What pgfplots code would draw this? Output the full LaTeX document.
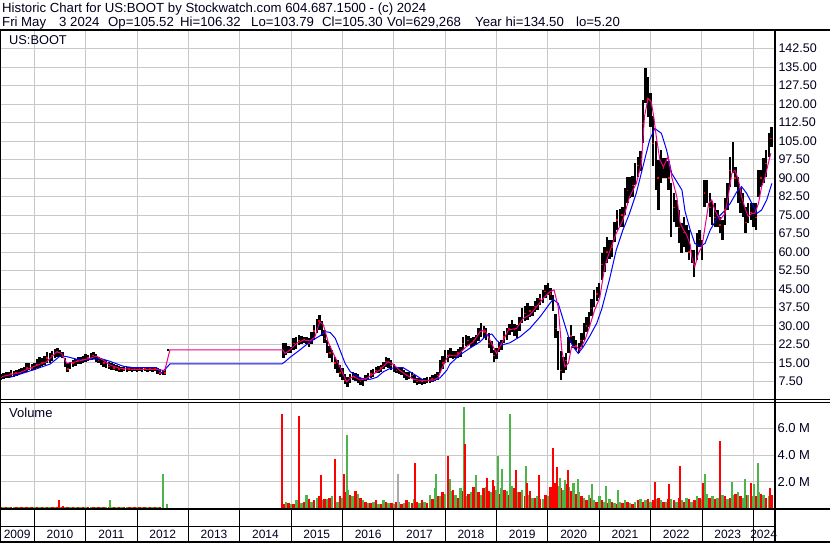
\documentclass[border=0pt]{standalone}
\usepackage{pgfplots}
\pgfplotsset{compat=1.18}
\usepackage{pgfplotstable}
\usepackage{fontspec}
\setmainfont{Liberation Sans}
\definecolor{gridgray}{RGB}{200,200,200}
\definecolor{volgreen}{RGB}{76,180,72}
\definecolor{volred}{RGB}{255,0,0}
\definecolor{volgray}{RGB}{170,170,170}
\definecolor{txt}{RGB}{0,0,30}

\pgfplotstableread{
x lo hi c
2009.35 8.0 10.5 9
2009.40 8.5 11.0 9.5
2009.45 8.8 11.5 10
2009.50 9.0 11.2 10
2009.55 9.5 12.0 10.5
2009.60 9.3 11.8 10.5
2009.65 9.8 12.2 11
2009.70 10.2 12.5 11.5
2009.75 10.5 12.8 11.5
2009.80 11.0 13.5 12
2009.85 11.5 15.1 13
2009.90 12.0 14.8 13.5
2009.95 12.0 14.5 13
2010.00 12.3 15.0 13.5
2010.05 12.8 16.5 14.5
2010.10 13.0 17.6 15
2010.15 13.8 17.0 15
2010.20 14.2 18.0 16
2010.25 14.9 19.6 17
2010.30 15.0 19.0 17
2010.35 16.0 20.0 18
2010.40 17.0 20.5 19
2010.45 17.6 21.0 19.5
2010.50 17.5 20.2 18.5
2010.55 16.9 19.6 18
2010.60 13.5 17.0 14.5
2010.65 11.5 15.0 12.5
2010.70 12.5 15.5 14
2010.75 13.5 16.2 15
2010.80 13.8 16.8 15
2010.85 14.4 17.6 16
2010.90 14.5 17.5 16
2010.95 15.0 18.0 16.5
2011.00 15.5 18.5 17
2011.05 15.8 18.2 17
2011.10 16.2 19.2 18
2011.15 16.5 19.5 18
2011.20 15.5 18.8 17
2011.25 14.9 17.6 16
2011.30 14.0 17.0 15.5
2011.35 13.5 16.5 15
2011.40 12.8 16.2 14
2011.45 12.5 15.5 13.5
2011.50 12.0 14.9 13
2011.55 12.0 14.5 13
2011.60 11.8 14.0 12.5
2011.65 11.5 13.7 12.5
2011.70 11.5 13.5 12.5
2011.75 11.8 13.5 12.5
2011.80 11.5 13.2 12
2011.85 11.8 13.5 12.5
2011.90 11.5 13.0 12
2011.95 11.8 13.5 12.5
2012.00 11.5 13.2 12.5
2012.05 11.8 13.5 12.5
2012.10 11.5 13.2 12
2012.15 11.8 13.0 12.5
2012.20 11.5 13.5 12.5
2012.25 11.8 13.2 12.5
2012.30 11.5 13.0 12
2012.35 11.8 13.5 12.5
2012.40 10.5 13.0 11.5
2012.45 10.0 12.5 11
2012.50 10.0 12.0 10.5
2012.55 10.2 12.5 11
2012.60 20.1 20.5 20.3
2014.85 17.0 23.0 20
2014.90 18.2 23.2 21
2014.95 19.0 22.0 20
2015.00 19.0 21.5 20.5
2015.05 20.3 25.0 23
2015.10 20.8 25.7 24
2015.15 22.3 26.4 24
2015.20 22.5 26.0 24.5
2015.25 23.0 25.7 24.5
2015.30 22.5 25.5 24
2015.35 21.6 25.0 23
2015.40 22.5 27.5 25
2015.45 24.3 30.4 28
2015.50 27.0 33.0 30
2015.55 28.4 34.5 32
2015.60 26.0 32.0 29
2015.65 23.0 28.5 25
2015.70 19.0 24.3 21
2015.75 17.0 22.0 19
2015.80 15.5 20.3 17
2015.85 12.5 17.5 15
2015.90 10.8 16.2 13
2015.95 9.5 14.0 11
2016.00 8.1 13.0 10
2016.05 6.5 10.5 8
2016.10 5.1 9.5 7
2016.15 7.0 10.5 9
2016.20 8.1 11.5 10
2016.25 7.5 11.0 9
2016.30 7.0 10.5 8.5
2016.35 6.0 9.0 7.5
2016.40 5.7 8.9 7.5
2016.45 7.5 10.0 8.5
2016.50 8.0 10.8 9.5
2016.55 8.9 12.2 10.5
2016.60 9.5 12.5 11
2016.65 10.8 13.5 12
2016.70 11.0 13.8 12.5
2016.75 11.5 14.2 13
2016.80 12.5 15.5 14
2016.85 13.5 17.6 15.5
2016.90 13.0 17.0 15
2016.95 12.2 16.2 14
2017.00 11.5 14.5 13
2017.05 10.8 13.5 12
2017.10 10.5 13.2 12
2017.15 10.1 12.9 11.5
2017.20 9.0 12.0 10.5
2017.25 8.1 11.5 10
2017.30 8.5 11.5 10
2017.35 8.9 11.5 10
2017.40 7.0 10.0 8.5
2017.45 6.1 8.8 7.5
2017.50 6.3 8.8 7.5
2017.55 6.1 8.5 7.5
2017.60 6.5 8.8 7.5
2017.65 6.8 9.2 8
2017.70 6.8 9.5 8
2017.75 7.4 10.1 8.5
2017.80 7.8 10.5 9
2017.85 8.1 11.5 10
2017.90 10.8 16.2 13
2017.95 12.5 18.0 15
2018.00 14.9 20.3 17.5
2018.05 15.5 20.3 18
2018.10 16.9 21.0 19
2018.15 16.5 20.0 18
2018.20 17.0 20.0 18.5
2018.25 17.0 20.5 19
2018.30 17.6 21.6 20
2018.35 20.3 25.7 23
2018.40 22.0 26.4 24
2018.45 22.3 26.0 24
2018.50 21.6 25.0 23
2018.55 22.0 25.5 24
2018.60 22.3 26.4 24.5
2018.65 24.0 29.0 27
2018.70 25.7 31.1 28.5
2018.75 25.0 30.0 27.5
2018.80 24.3 29.0 26
2018.85 21.0 27.0 23
2018.90 18.9 24.0 20
2018.95 15.5 20.3 18
2019.00 16.5 21.0 19
2019.05 19.5 23.5 21
2019.10 20.3 24.3 23
2019.15 23.0 28.0 25.5
2019.20 24.5 29.0 27
2019.25 26.5 31.0 29
2019.30 27.7 32.4 30
2019.35 26.0 31.0 28.5
2019.40 25.0 30.4 28
2019.45 28.0 33.5 31
2019.50 31.1 37.2 34
2019.55 32.0 38.0 35
2019.60 32.4 39.2 35
2019.65 33.5 38.0 36
2019.70 34.0 38.0 36
2019.75 35.5 40.0 38
2019.80 36.5 41.2 39
2019.85 38.5 43.0 41
2019.90 39.2 44.6 42
2019.95 41.5 46.5 44
2020.00 42.6 47.6 45
2020.05 40.5 45.3 43
2020.10 36.0 42.5 39
2020.15 25.0 35.0 29
2020.20 12.0 28.0 17
2020.25 8.1 20.0 12
2020.30 10.8 17.6 14
2020.35 12.2 18.9 16
2020.40 18.9 25.7 22
2020.45 23.0 30.4 26
2020.50 21.0 26.0 23
2020.55 20.3 24.3 22
2020.60 18.9 23.0 21
2020.65 21.5 27.0 24
2020.70 24.3 31.1 28
2020.75 27.5 33.5 30
2020.80 29.7 35.8 33
2020.85 34.0 41.0 37
2020.90 37.8 44.6 41
2020.95 40.0 46.0 43
2021.00 41.2 47.3 45
2021.05 48.6 59.5 55
2021.10 52.0 62.0 57
2021.15 55.4 66.2 60
2021.20 57.0 65.0 61
2021.25 58.0 65.0 62
2021.30 64.0 72.0 68
2021.35 69.0 77.0 73
2021.40 70.0 77.5 74
2021.45 70.3 78.4 75
2021.50 75.0 86.0 80
2021.55 79.7 90.5 85
2021.60 82.0 90.5 86
2021.65 82.4 91.0 87
2021.70 87.0 96.0 91
2021.75 90.5 98.6 95
2021.80 93.0 101.0 97
2021.85 104.0 121.6 112
2021.90 120.3 134.5 126
2021.95 114.9 131.0 122
2022.00 110.8 124.3 118
2022.05 95.0 115.0 104
2022.10 85.0 105.0 95
2022.15 77.0 97.3 90
2022.20 87.8 101.4 94
2022.25 90.0 98.0 94
2022.30 90.0 98.0 93
2022.35 85.0 97.0 90
2022.40 66.2 87.8 75
2022.45 72.0 84.0 78
2022.50 70.0 81.0 74
2022.55 63.5 77.0 70
2022.60 59.5 71.6 66
2022.65 62.0 74.0 68
2022.70 60.0 71.0 64
2022.75 56.8 69.0 60
2022.80 55.4 60.8 58
2022.85 50.0 60.8 55
2022.90 56.8 67.6 62
2022.95 62.0 69.0 65
2023.00 56.8 64.9 60
2023.05 78.4 89.2 84
2023.10 79.7 89.2 84
2023.15 74.0 84.0 78
2023.20 71.0 80.5 75
2023.25 70.3 79.7 74
2023.30 70.3 77.0 73
2023.35 67.6 74.3 71
2023.40 64.9 73.0 69
2023.45 71.0 82.0 77
2023.50 77.0 88.0 83
2023.55 86.5 98.6 93
2023.60 91.9 104.7 97
2023.65 86.5 94.6 90
2023.70 79.7 90.5 85
2023.75 76.0 86.0 80
2023.80 74.3 83.8 78
2023.85 67.6 78.4 72
2023.90 71.6 79.7 75
2023.95 72.9 79.7 76
2024.00 70.0 79.7 75
2024.05 68.9 79.7 74
2024.10 82.4 93.2 88
2024.15 86.5 93.2 90
2024.20 88.0 98.0 93
2024.25 90.5 101.4 96
2024.30 98.6 108.1 104
2024.35 102.7 110.8 106
}\price

\pgfplotsset{chartbase/.style={
  scale only axis, anchor=south west, width=774pt,
  xmin=2009.332, xmax=2024.402,
  axis line style={draw=none}, tick style={draw=none},
  xtick={2010,...,2024}, xticklabels={},
  xmajorgrids, ymajorgrids,
  major grid style={gridgray, line width=1pt},
  tick label style={text=txt},
  /pgf/number format/assume math mode=true,
}}
\tikzset{yl/.style={anchor=base, inner sep=0, font=\fontsize{12}{14}\selectfont, text=txt},
         tl/.style={anchor=base west, inner sep=0, font=\fontsize{13.2}{15}\selectfont, text=txt}}

\begin{document}
\begin{tikzpicture}[x=1pt,y=1pt]
\path[use as bounding box] (0,0) rectangle (830,543);
\fill[white] (0,0) rectangle (830,543);

% ---------- price panel ----------
\begin{axis}[chartbase, at={(0pt,143pt)}, height=369pt, ymin=0, ymax=149.6,
  ytick={7.5,15,22.5,30,37.5,45,52.5,60,67.5,75,82.5,90,97.5,105,112.5,120,127.5,135,142.5},
  yticklabel pos=right,
  yticklabel style={anchor=west, font=\fontsize{12.5}{14}\selectfont, xshift=1pt,
    /pgf/number format/.cd, fixed, fixed zerofill, precision=2}]
\addplot[mark=none, draw=none, error bars/.cd, y dir=both, y explicit, error mark=none,
  error bar style={draw=black, line width=2.4pt}]
  table[x=x, y expr={(\thisrow{lo}+\thisrow{hi})/2},
        y error plus expr={(\thisrow{hi}-\thisrow{lo})/2},
        y error minus expr={(\thisrow{hi}-\thisrow{lo})/2}] {\price};
\addplot[only marks, mark=-, mark size=0.9pt, red, line width=1.4pt, each nth point=2] table[x=x, y=c] {\price};
\addplot[blue, line width=1pt] coordinates {
(2009.53,9.2) (2009.98,12.2) (2010.31,14.6) (2010.50,17.8) (2010.63,17.6) (2010.83,16.5) (2011.02,16.2) (2011.28,16.9) (2011.47,15.7) (2011.73,13.7) (2011.93,13.1) (2012.38,13.1) (2012.48,10.9) (2012.64,14.6) (2014.82,14.6) (2014.88,15.5) (2014.98,17.3) (2015.17,20.3) (2015.37,23.6) (2015.56,26) (2015.66,27.7) (2015.76,27.4) (2015.86,25) (2015.95,20.3) (2016.05,14.9) (2016.15,11.5) (2016.28,9.7) (2016.41,8.4) (2016.54,8.4) (2016.67,9.2) (2016.80,11.5) (2016.93,12.8) (2017.06,13.1) (2017.18,13.1) (2017.31,11.5) (2017.45,9.7) (2017.57,8.1) (2017.77,7.8) (2017.90,9.0) (2018.03,12) (2018.09,14.5) (2018.28,18.2) (2018.48,21) (2018.68,23.6) (2018.81,26.4) (2018.91,26.7) (2019.00,24.3) (2019.10,22.3) (2019.26,23.2) (2019.46,25.7) (2019.65,29) (2019.85,33.8) (2020.04,39.2) (2020.10,40.8) (2020.20,39.2) (2020.30,32.4) (2020.40,25.7) (2020.49,21.6) (2020.59,18.9) (2020.69,21.6) (2020.81,25.7) (2020.95,31.1) (2021.05,37) (2021.20,49) (2021.33,60.8) (2021.46,68.9) (2021.59,75.7) (2021.72,83.8) (2021.85,94.6) (2021.98,105.4) (2022.08,110.1) (2022.21,108.1) (2022.31,101.4) (2022.41,91.9) (2022.51,88.5) (2022.61,85.1) (2022.67,76.5) (2022.77,69) (2022.86,63.5) (2022.96,62.2) (2023.06,63.5) (2023.16,68.9) (2023.29,73.6) (2023.42,76.3) (2023.55,79.7) (2023.68,84.5) (2023.77,86.5) (2023.87,83.8) (2023.97,79.7) (2024.07,75.7) (2024.16,77) (2024.26,81.1) (2024.36,87.8)
};
\addplot[magenta, line width=1pt] coordinates {
(2009.37,9.5) (2009.72,11.1) (2009.98,13.5) (2010.24,15.5) (2010.44,19.6) (2010.53,18.9) (2010.63,14.9) (2010.73,15.1) (2010.89,15.9) (2011.08,16.9) (2011.21,17.8) (2011.34,16.2) (2011.47,14.2) (2011.67,12.8) (2011.93,12.4) (2012.32,12.4) (2012.45,12.2) (2012.54,12.0) (2012.64,20.3) (2014.84,20.3) (2014.88,18.9) (2014.98,20.3) (2015.11,23) (2015.24,24.3) (2015.37,24) (2015.46,25.5) (2015.56,31.7) (2015.63,30.4) (2015.72,23.6) (2015.82,18.9) (2015.95,13.5) (2016.08,7.4) (2016.21,9.7) (2016.34,8.1) (2016.47,8.8) (2016.60,10.5) (2016.73,12.2) (2016.89,15.5) (2016.99,14.5) (2017.12,11.9) (2017.25,10.1) (2017.38,8.4) (2017.57,7.8) (2017.77,8.1) (2017.86,9.0) (2017.93,12.5) (2018.03,16.9) (2018.09,18.2) (2018.22,17.8) (2018.41,21.6) (2018.55,23.6) (2018.68,27.7) (2018.77,28.4) (2018.87,24.3) (2019.00,18.9) (2019.10,23) (2019.23,28.4) (2019.39,29) (2019.52,33.1) (2019.65,34.5) (2019.78,37.8) (2019.91,41.2) (2020.04,43.9) (2020.12,44.6) (2020.20,37.8) (2020.27,20.3) (2020.33,13.5) (2020.40,14.9) (2020.46,21.6) (2020.56,21.6) (2020.62,20.3) (2020.72,24.3) (2020.81,29.7) (2020.91,36.5) (2021.01,41.5) (2021.11,54.5) (2021.20,60) (2021.33,67.6) (2021.46,73) (2021.59,82.4) (2021.72,87.8) (2021.82,95.9) (2021.88,114.9) (2021.95,122.3) (2022.01,121) (2022.06,114.9) (2022.11,106.8) (2022.18,97.3) (2022.25,94.6) (2022.34,98.6) (2022.41,90.5) (2022.51,82.4) (2022.57,72) (2022.64,69) (2022.70,67) (2022.77,63) (2022.80,58.1) (2022.86,54) (2022.93,59.5) (2023.00,62.2) (2023.06,70.3) (2023.13,79.7) (2023.19,81.1) (2023.25,77) (2023.35,73) (2023.45,75.7) (2023.51,82.4) (2023.58,91.9) (2023.64,93.2) (2023.71,89.2) (2023.77,82.4) (2023.84,77.7) (2023.90,74.3) (2023.97,75.7) (2024.03,75.7) (2024.10,79.7) (2024.16,86.5) (2024.23,90.5) (2024.29,95.9) (2024.34,100)
};
\end{axis}

% ---------- volume panel ----------
\begin{axis}[chartbase, at={(0pt,34.5pt)}, height=106pt, ymin=0, ymax=7.93,
  ytick={2,4,6}, yticklabels={2.0 M,4.0 M,6.0 M}, yticklabel pos=right,
  yticklabel style={anchor=west, font=\fontsize{13}{14}\selectfont}]
\addplot[ycomb, volred, line width=2.5pt] coordinates {
(2009.35,0.10)(2009.45,0.08)(2009.55,0.12)(2009.65,0.10)(2009.75,0.08)(2009.85,0.10)(2009.95,0.12)(2010.05,0.08)(2010.15,0.10)(2010.25,0.10)(2010.35,0.12)(2010.45,0.10)(2010.55,0.10)(2010.65,0.08)(2010.75,0.12)(2010.85,0.10)(2010.95,0.08)(2011.05,0.10)(2011.15,0.10)(2011.25,0.12)(2011.35,0.08)(2011.45,0.10)(2011.55,0.10)(2011.65,0.08)(2011.75,0.10)(2011.85,0.12)(2011.95,0.10)(2012.05,0.10)(2012.15,0.08)(2012.25,0.10)(2012.35,0.12)(2012.45,0.10)
};
\addplot[ycomb, volgreen, line width=2.5pt] coordinates {
(2009.40,0.08)(2009.50,0.10)(2009.60,0.08)(2009.70,0.10)(2009.80,0.12)(2009.90,0.08)(2010.00,0.10)(2010.10,0.08)(2010.20,0.10)(2010.30,0.08)(2010.40,0.10)(2010.50,0.12)(2010.60,0.08)(2010.70,0.10)(2010.80,0.08)(2010.90,0.10)(2011.00,0.12)(2011.10,0.08)(2011.20,0.10)(2011.30,0.08)(2011.40,0.10)(2011.50,0.12)(2011.60,0.10)(2011.70,0.08)(2011.80,0.10)(2011.90,0.08)(2012.00,0.10)(2012.10,0.12)(2012.20,0.10)(2012.30,0.08)(2012.40,0.10)
};
\addplot[ycomb, volred, line width=2.5pt] coordinates {
(2014.85,0.3)(2014.95,0.4)(2015.05,0.3)(2015.15,0.4)(2015.25,0.5)(2015.35,0.7)(2015.45,0.6)(2015.55,0.9)(2015.65,0.7)(2015.75,0.8)(2015.85,0.6)(2015.95,0.9)(2016.05,1.2)(2016.15,1.0)(2016.25,1.3)(2016.35,0.8)(2016.45,0.5)(2016.55,0.4)(2016.65,0.6)(2016.75,0.3)(2016.85,0.5)(2016.95,0.4)(2017.05,0.5)(2017.15,0.3)(2017.25,0.6)(2017.35,0.4)(2017.45,0.5)(2017.55,0.6)(2017.65,0.4)(2017.75,0.7)(2017.85,0.9)(2017.95,1.2)(2018.05,1.0)(2018.15,1.4)(2018.25,0.8)(2018.35,1.3)(2018.45,1.1)(2018.55,1.6)(2018.65,1.2)(2018.75,1.5)(2018.85,1.3)(2018.95,1.7)(2019.05,1.1)(2019.15,1.4)(2019.25,1.0)(2019.35,1.5)(2019.45,1.2)(2019.55,0.9)(2019.65,1.3)(2019.75,0.8)(2019.85,0.7)(2019.95,1.0)(2020.05,1.6)(2020.15,1.9)(2020.25,1.5)(2020.35,1.8)(2020.45,1.3)(2020.55,1.1)(2020.65,0.9)(2020.75,0.6)(2020.85,0.8)(2020.95,0.5)(2021.05,0.6)(2021.15,0.4)(2021.25,0.5)(2021.35,0.3)(2021.45,0.4)(2021.55,0.5)(2021.65,0.3)(2021.75,0.6)(2021.85,0.5)(2021.95,0.7)(2022.05,0.6)(2022.15,0.8)(2022.25,0.5)(2022.35,0.7)(2022.45,0.6)(2022.55,0.8)(2022.65,0.5)(2022.75,0.7)(2022.85,0.6)(2022.95,0.8)(2023.05,1.0)(2023.15,0.8)(2023.25,0.7)(2023.35,1.0)(2023.45,0.9)(2023.55,0.8)(2023.65,1.1)(2023.75,0.9)(2023.85,1.0)(2023.95,1.2)(2024.05,0.9)(2024.15,1.1)(2024.25,0.8)(2024.35,1.0)
};
\addplot[ycomb, volgreen, line width=2.5pt] coordinates {
(2014.90,0.5)(2015.00,0.3)(2015.10,0.6)(2015.20,0.4)(2015.30,1.0)(2015.40,0.5)(2015.50,0.8)(2015.60,0.6)(2015.70,0.7)(2015.80,0.9)(2015.90,0.5)(2016.00,0.8)(2016.10,1.4)(2016.20,0.9)(2016.30,1.1)(2016.40,0.6)(2016.50,0.4)(2016.60,0.5)(2016.70,0.3)(2016.80,0.6)(2016.90,0.4)(2017.00,0.3)(2017.10,0.5)(2017.20,0.4)(2017.30,0.5)(2017.40,0.7)(2017.50,0.4)(2017.60,0.5)(2017.70,1.0)(2017.80,1.5)(2017.90,0.9)(2018.00,1.1)(2018.10,1.3)(2018.20,1.0)(2018.30,1.5)(2018.40,0.9)(2018.50,1.2)(2018.60,1.4)(2018.70,1.0)(2018.80,1.6)(2018.90,1.2)(2019.00,1.4)(2019.10,1.5)(2019.20,1.3)(2019.30,1.7)(2019.40,1.2)(2019.50,1.4)(2019.60,1.0)(2019.70,0.8)(2019.80,0.9)(2019.90,0.7)(2020.00,0.9)(2020.10,1.3)(2020.20,1.7)(2020.30,1.4)(2020.40,1.6)(2020.50,1.9)(2020.60,1.2)(2020.70,0.8)(2020.80,1.0)(2020.90,0.6)(2021.00,0.9)(2021.10,0.5)(2021.20,0.7)(2021.30,0.4)(2021.40,0.5)(2021.50,0.6)(2021.60,0.4)(2021.70,0.5)(2021.80,0.7)(2021.90,0.6)(2022.00,0.5)(2022.10,0.7)(2022.20,0.6)(2022.30,0.5)(2022.40,0.7)(2022.50,0.5)(2022.60,0.6)(2022.70,0.8)(2022.80,0.5)(2022.90,0.9)(2023.00,0.7)(2023.10,1.1)(2023.20,0.9)(2023.30,0.8)(2023.40,1.0)(2023.50,0.7)(2023.60,1.0)(2023.70,1.2)(2023.80,0.8)(2023.90,1.0)(2024.00,0.9)(2024.10,1.2)(2024.20,1.0)(2024.30,0.9)
};
\addplot[ycomb, volgray, line width=2pt] coordinates {(2017.08,2.6)};
\addplot[ycomb, volgreen, line width=2pt] coordinates {
(2011.47,0.6)(2012.50,2.55)(2012.58,0.33)
(2016.08,5.5)(2017.83,2.6)(2018.09,2.2)(2018.37,7.6)(2018.60,2.5)(2019.02,3.95)(2019.10,2.95)(2019.26,7.05)(2019.57,3.2)(2020.24,2.3)(2020.33,2.1)(2020.59,2.2)(2020.86,1.8)(2021.14,1.7)(2021.36,1.4)(2023.06,2.6)(2023.58,2.0)(2023.84,2.2)(2024.01,1.85)(2024.09,3.4)
};
\addplot[ycomb, volred, line width=2pt] coordinates {
(2010.475,0.62)(2010.55,0.2)
(2014.82,7.05)(2015.15,6.95)(2015.58,2.48)(2015.85,3.7)(2016.03,2.56)(2017.41,3.4)(2018.05,3.95)(2018.38,4.8)(2018.81,2.3)(2018.94,2.1)(2019.37,2.85)(2019.60,1.9)(2019.82,2.5)(2020.09,4.55)(2020.17,3.1)(2020.40,2.85)(2022.08,1.95)(2022.35,1.8)(2022.57,3.2)(2023.01,1.9)(2023.36,5.05)(2023.95,1.9)(2024.32,1.5)
};
\end{axis}

% ---------- date band ----------
\begin{axis}[chartbase, at={(0pt,1pt)}, height=33pt, ymin=0, ymax=33, ytick=\empty,
  ymajorgrids=false, major grid style={black, line width=0.8pt}, clip=false]
\draw[black, line width=1pt] (axis cs:2009.332,15) -- (axis cs:2024.402,15);
\node[yl] at (axis cs:2009.665,3.5) {2009};
\node[yl] at (axis cs:2010.5,3.5) {2010};
\node[yl] at (axis cs:2011.5,3.5) {2011};
\node[yl] at (axis cs:2012.5,3.5) {2012};
\node[yl] at (axis cs:2013.5,3.5) {2013};
\node[yl] at (axis cs:2014.5,3.5) {2014};
\node[yl] at (axis cs:2015.5,3.5) {2015};
\node[yl] at (axis cs:2016.5,3.5) {2016};
\node[yl] at (axis cs:2017.5,3.5) {2017};
\node[yl] at (axis cs:2018.5,3.5) {2018};
\node[yl] at (axis cs:2019.5,3.5) {2019};
\node[yl] at (axis cs:2020.5,3.5) {2020};
\node[yl] at (axis cs:2021.5,3.5) {2021};
\node[yl] at (axis cs:2022.5,3.5) {2022};
\node[yl] at (axis cs:2023.5,3.5) {2023};
\node[yl] at (axis cs:2024.2,3.5) {2024};
\end{axis}

% ---------- frame ----------
\draw[black, line width=2pt] (0,513) -- (830,513);
\draw[black, line width=1pt] (0,143) -- (830,143);
\draw[black, line width=1pt] (0,140.5) -- (830,140.5);
\draw[black, line width=2pt] (0,34) -- (830,34);
\draw[black, line width=1.2pt] (0,1) -- (830,1);
\draw[black, line width=1.2pt] (0.6,0) -- (0.6,513);
\draw[black, line width=2.2pt] (775,0) -- (775,513);

% ---------- texts ----------
\node[tl] at (2,530.5) {Historic Chart for US:BOOT by Stockwatch.com 604.687.1500 - (c) 2024};
\node[tl] at (2,516.5) {Fri May};
\node[tl] at (59,516.5) {3 2024};
\node[tl] at (108,516.5) {Op=105.52};
\node[tl] at (180,516.5) {Hi=106.32};
\node[tl] at (251,516.5) {Lo=103.79};
\node[tl] at (322,516.5) {Cl=105.30};
\node[tl] at (387,516.5) {Vol=629,268};
\node[tl] at (475,516.5) {Year hi=134.50};
\node[tl] at (576,516.5) {lo=5.20};
\node[tl, font=\fontsize{12.8}{14}\selectfont] at (9,498) {US:BOOT};
\node[tl, font=\fontsize{13}{14}\selectfont] at (9,125) {Volume};
\end{tikzpicture}
\end{document}
